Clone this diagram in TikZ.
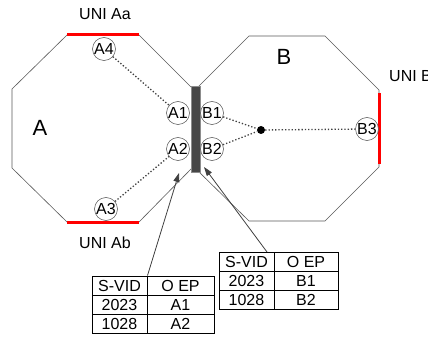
\documentclass[tikz,border=0pt]{standalone}
\usepackage{fontspec}
\setmainfont{Liberation Sans}
\usetikzlibrary{arrows.meta,calc}
\begin{document}
\begin{tikzpicture}[x=1pt,y=-1pt,
  octa/.style={draw=black!65,line width=0.6pt},
  uni/.style={draw=red,line width=3pt},
  port/.style={circle,draw=black!70,fill=white,line width=0.5pt,minimum size=23pt,inner sep=0pt,font=\fontsize{16}{16}\selectfont},
  link/.style={dotted,line width=1.3pt,draw=black!75},
  lbl/.style={font=\fontsize{16}{19}\selectfont,inner sep=0pt},
  big/.style={font=\fontsize{22}{26}\selectfont,inner sep=0pt},
  cell/.style={draw=black,line width=1pt,inner sep=0pt,minimum height=19.33pt,font=\fontsize{16}{16}\selectfont},
  arr/.style={draw=black!75,line width=0.8pt,-{Triangle[length=9pt,width=6pt]}}
]
\useasboundingbox (0,0) rectangle (428,339);
% octagon A
\draw[octa] (67,35) -- (139,35) -- (192,88) -- (192,168) -- (139,222) -- (67,222) -- (12,168) -- (12,89) -- cycle;
% octagon B
\draw[octa] (249,36) -- (325,36) -- (379,90) -- (379,167) -- (325,221) -- (249,221) -- (197,170) -- (197,88) -- cycle;
% UNI lines
\draw[uni] (67,35) -- (139,35);
\draw[uni] (67,222) -- (139,222);
\draw[uni] (379,93) -- (379,164);
% bar
\node[draw=black!45,fill=black!72,line width=0.5pt,minimum width=9pt,minimum height=86pt,inner sep=0pt] (bar) at (195.5,129) {};
% ports
\node[port] (A1) at (178,113) {A1};
\node[port] (A2) at (178,149) {A2};
\node[port] (B1) at (212,113) {B1};
\node[port] (B2) at (212,149) {B2};
\node[port] (A4) at (104,49) {A4};
\node[port] (A3) at (106,209) {A3};
\node[port] (B3) at (367,129) {B3};
\node[circle,fill=black,minimum size=8pt,inner sep=0pt] (dot) at (261,130) {};
% links
\draw[link] (A4) -- (A1);
\draw[link] (A3) -- (A2);
\draw[link] (B1) -- (dot);
\draw[link] (B2) -- (dot);
\draw[link] (dot) -- (B3);
% labels
\node[lbl] (uniAa) at (105,14) {UNI Aa};
\node[lbl] (uniAb) at (105,243) {UNI Ab};
\node[lbl,anchor=west] (uniB) at (389,76) {UNI B};
\node[big] (labA) at (40,128) {A};
\node[big] (labB) at (284,57) {B};
% table 1
\node[cell,minimum width=55pt] (t1a) at (119.5,285.67) {S-VID};
\node[cell,minimum width=67pt] (t1b) at (180.5,285.67) {O EP};
\node[cell,minimum width=55pt] (t1c) at (119.5,305) {2023};
\node[cell,minimum width=67pt] (t1d) at (180.5,305) {A1};
\node[cell,minimum width=55pt] (t1e) at (119.5,324.33) {1028};
\node[cell,minimum width=67pt] (t1f) at (180.5,324.33) {A2};
% table 2
\node[cell,minimum width=55pt] (t2a) at (246.5,261.67) {S-VID};
\node[cell,minimum width=64pt] (t2b) at (306,261.67) {O EP};
\node[cell,minimum width=55pt] (t2c) at (246.5,281) {2023};
\node[cell,minimum width=64pt] (t2d) at (306,281) {B1};
\node[cell,minimum width=55pt] (t2e) at (246.5,300.33) {1028};
\node[cell,minimum width=64pt] (t2f) at (306,300.33) {B2};
% arrows
\coordinate (tipA) at (179,173);
\coordinate (tipB) at (204,167);
\coordinate (startB) at (267,252);
\draw[arr] (t1a.north east) -- (tipA);
\draw[arr] (startB) -- (tipB);
\end{tikzpicture}
\end{document}
